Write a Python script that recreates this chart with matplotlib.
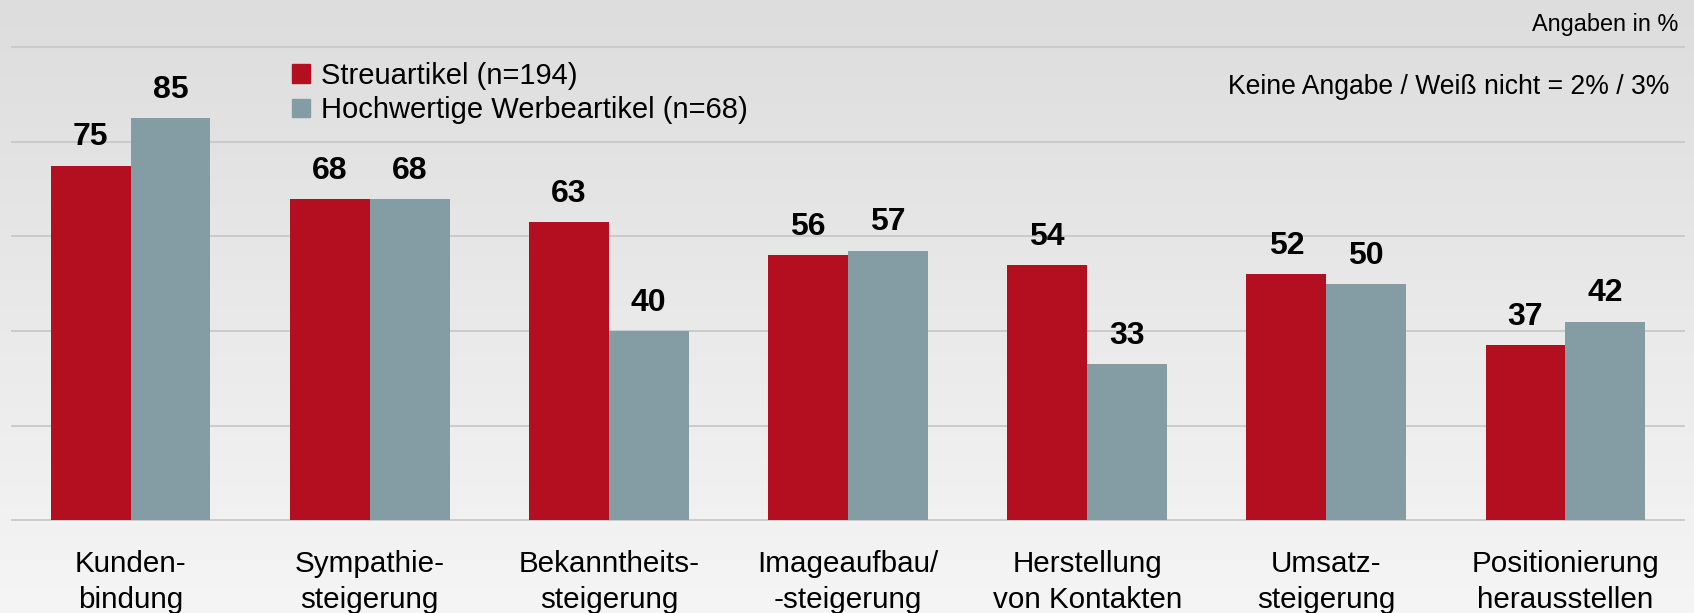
import numpy as np
import matplotlib.pyplot as plt
from matplotlib.colors import LinearSegmentedColormap
from matplotlib.patches import Patch

plt.rcParams['font.family'] = ['Liberation Sans', 'DejaVu Sans']

categories = ["Kunden-\nbindung", "Sympathie-\nsteigerung", "Bekanntheits-\nsteigerung",
              "Imageaufbau/\n-steigerung", "Herstellung\nvon Kontakten", "Umsatz-\nsteigerung",
              "Positionierung\nherausstellen"]
streu = [75, 68, 63, 56, 54, 52, 37]
hoch = [85, 68, 40, 57, 33, 50, 42]
series_names = ["Streuartikel (n=194)", "Hochwertige Werbeartikel (n=68)"]
grid_vals = [0, 20, 40, 60, 80, 100]

red = '#b40f21'
grey = '#849ca3'

W, H = 1694, 613
fig = plt.figure(figsize=(W / 100, H / 100), dpi=100)

# background gradient
bg = fig.add_axes([0, 0, 1, 1], zorder=0)
cmap = LinearSegmentedColormap.from_list('bg', ['#dddddd', '#f5f5f5'])
bg.imshow(np.linspace(0, 1, 256).reshape(-1, 1), aspect='auto', cmap=cmap,
          extent=[0, 1, 0, 1], origin='upper')
bg.axis('off')

ax = fig.add_axes([11 / W, 1 - 520 / H, (1685 - 11) / W, (520 - 47.5) / H], zorder=1)
ax.patch.set_alpha(0)
for s in ax.spines.values():
    s.set_visible(False)

x = np.arange(len(categories))
w = 0.334
ax.hlines(grid_vals, -0.5, 6.5, colors='#c6c6c6', linewidth=1.2, clip_on=False, zorder=0)
b1 = ax.bar(x - w / 2, streu, w, color=red, zorder=2)
b2 = ax.bar(x + w / 2, hoch, w, color=grey, zorder=2)

for bars, vals in ((b1, streu), (b2, hoch)):
    for rect, v in zip(bars, vals):
        ax.annotate(str(v), (rect.get_x() + rect.get_width() / 2, v),
                    xytext=(0, 9.5), textcoords='offset points',
                    ha='center', va='bottom', fontsize=23, fontweight='bold')

ax.set_xlim(-0.5, 6.5)
ax.set_ylim(0, 100)
ax.set_yticks([])
ax.set_xticks(x)
ax.set_xticklabels(categories, fontsize=21.3, linespacing=1.36)
ax.tick_params(axis='x', length=0, pad=21.5)

handles = [Patch(color=red), Patch(color=grey)]
fig.legend(handles, series_names, loc='upper left',
           bbox_to_anchor=(292 / W, 1 - 62 / H), frameon=False,
           fontsize=21, handlelength=0.6, handleheight=0.6,
           handletextpad=0.4, labelspacing=0.22, borderaxespad=0, borderpad=0)

fig.text(1678 / W, 1 - 24 / H, "Angaben in %", ha='right', va='center', fontsize=16.9)
fig.text(1669 / W, 1 - 87.5 / H, "Keine Angabe / Weiß nicht = 2% / 3%",
         ha='right', va='center', fontsize=19.1)

fig.savefig('out.png', dpi=100)
